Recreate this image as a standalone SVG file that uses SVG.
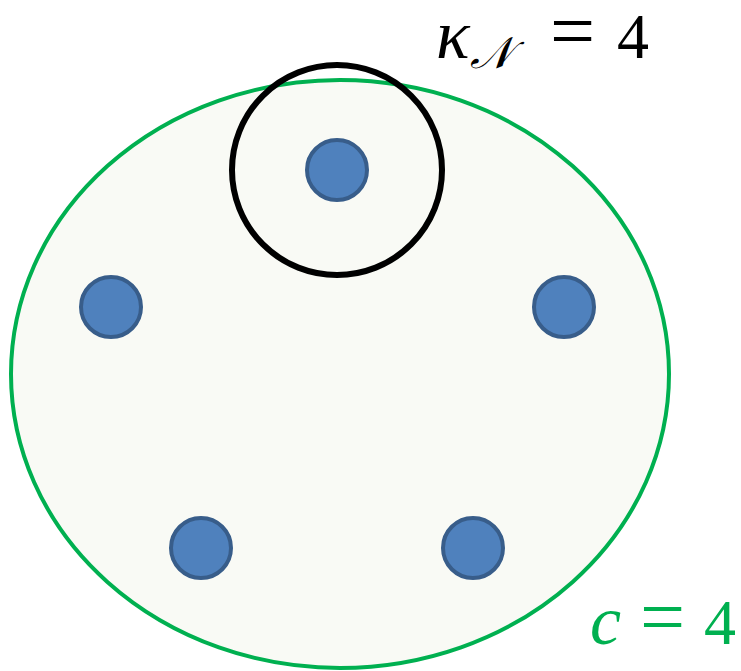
<svg xmlns="http://www.w3.org/2000/svg" width="741" height="671" viewBox="0 0 741 671">
<style>
.node{fill:#4F81BD;stroke:#385D8A;stroke-width:4}
.math{font-family:"Liberation Serif","DejaVu Serif",serif;font-size:64px}
</style>
<rect width="741" height="671" fill="#ffffff"/>
<g id="cluster">
<ellipse cx="340" cy="374" rx="329" ry="294" fill="#F9FAF5" stroke="#00B050" stroke-width="4"/>
</g>
<g id="connectors"></g>
<g id="n1"><circle class="node" cx="337" cy="170" r="30"/></g>
<g id="n2"><circle class="node" cx="111" cy="307" r="30"/></g>
<g id="n3"><circle class="node" cx="564" cy="307" r="30"/></g>
<g id="n4"><circle class="node" cx="201" cy="548" r="30"/></g>
<g id="n5"><circle class="node" cx="473" cy="548" r="30"/></g>
<g id="neighborhood">
<circle cx="337" cy="170" r="105" fill="none" stroke="#000000" stroke-width="6"/>
</g>
<g id="label-kappa">
<text class="math" y="58" fill="#000000"><tspan x="436" font-style="italic" font-size="70">κ</tspan><tspan x="470" y="68" font-family="DejaVu Sans, sans-serif" font-style="italic" font-size="44">𝒩</tspan><tspan x="550" y="58" font-size="80">=</tspan><tspan x="617" y="58">4</tspan></text>
</g>
<g id="label-c">
<text class="math" y="644" fill="#00B050"><tspan x="590" font-style="italic" font-size="70">c</tspan><tspan x="640" font-size="80">=</tspan><tspan x="704">4</tspan></text>
</g>
</svg>
